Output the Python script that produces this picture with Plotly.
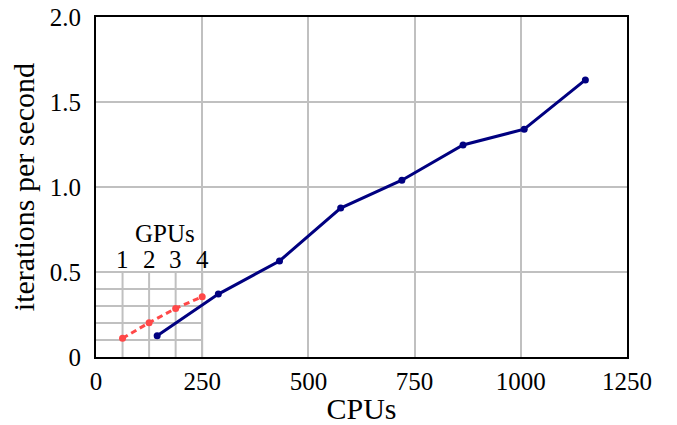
import plotly.graph_objects as go

cpus = [144, 288, 432, 576, 720, 864, 1008, 1152]
cpu_ips = [0.125, 0.37, 0.565, 0.876, 1.04, 1.247, 1.34, 1.63]
gpus = [1, 2, 3, 4]
gpu_ips = [0.110, 0.202, 0.286, 0.355]
inset_y = [0.1, 0.2, 0.3, 0.4]

FONT = "'Liberation Serif', 'Times New Roman', Times, 'DejaVu Serif', serif"
FS = 25
GRID = "#c0c0c0"

fig = go.Figure()
fig.add_trace(go.Scatter(x=cpus, y=cpu_ips, mode="lines+markers",
                         line=dict(color="#000080", width=3),
                         marker=dict(size=7, color="#000080"), showlegend=False))
fig.add_trace(go.Scatter(x=gpus, y=gpu_ips, xaxis="x2", mode="lines+markers",
                         line=dict(color="#ff4848", width=3, dash="6px,4px"),
                         marker=dict(size=7, color="#ff4848"), showlegend=False))

shapes = []
for g in gpus:
    shapes.append(dict(type="line", xref="x2", yref="y", x0=g, x1=g, y0=0, y1=0.5,
                       line=dict(color=GRID, width=2), layer="below"))
for v in inset_y:
    shapes.append(dict(type="line", xref="x2", yref="y", x0=0, x1=gpus[-1], y0=v, y1=v,
                       line=dict(color=GRID, width=2), layer="below"))

annotations = []
for g in gpus:
    annotations.append(dict(x=g, y=0.5, xref="x2", yref="y", text=str(g), showarrow=False,
                            yanchor="bottom", yshift=-3, font=dict(family=FONT, size=FS, color="black")))
annotations.append(dict(x=2.6, y=0.5, xref="x2", yref="y", text="GPUs", showarrow=False,
                        yanchor="bottom", yshift=23, font=dict(family=FONT, size=FS, color="black")))

fig.update_layout(
    width=677, height=425,
    margin=dict(l=96, r=50, t=17, b=68),
    paper_bgcolor="white", plot_bgcolor="white",
    font=dict(family=FONT, size=FS, color="black"),
    shapes=shapes, annotations=annotations,
    xaxis=dict(range=[0, 1250], tickvals=[0, 250, 500, 750, 1000, 1250],
               showgrid=True, gridcolor=GRID, gridwidth=2, zeroline=False,
               showline=True, linecolor="black", linewidth=2, mirror=True,
               ticks="", automargin=False, ticklabelstandoff=1,
               title=dict(text="CPUs", standoff=0)),
    xaxis2=dict(range=[0, 20], overlaying="x", visible=False),
    yaxis=dict(range=[0, 2.0], tickvals=[0, 0.5, 1.0, 1.5, 2.0],
               ticktext=["0", "0.5", "1.0", "1.5", "2.0"],
               showgrid=True, gridcolor=GRID, gridwidth=2, zeroline=False,
               showline=True, linecolor="black", linewidth=2, mirror=True,
               ticks="", automargin=False, ticklabelstandoff=8,
               title=dict(text="iterations per second", standoff=6)),
)
fig.write_html("out.html", config={"displayModeBar": False},
               post_script="document.body.style.margin='0';")
